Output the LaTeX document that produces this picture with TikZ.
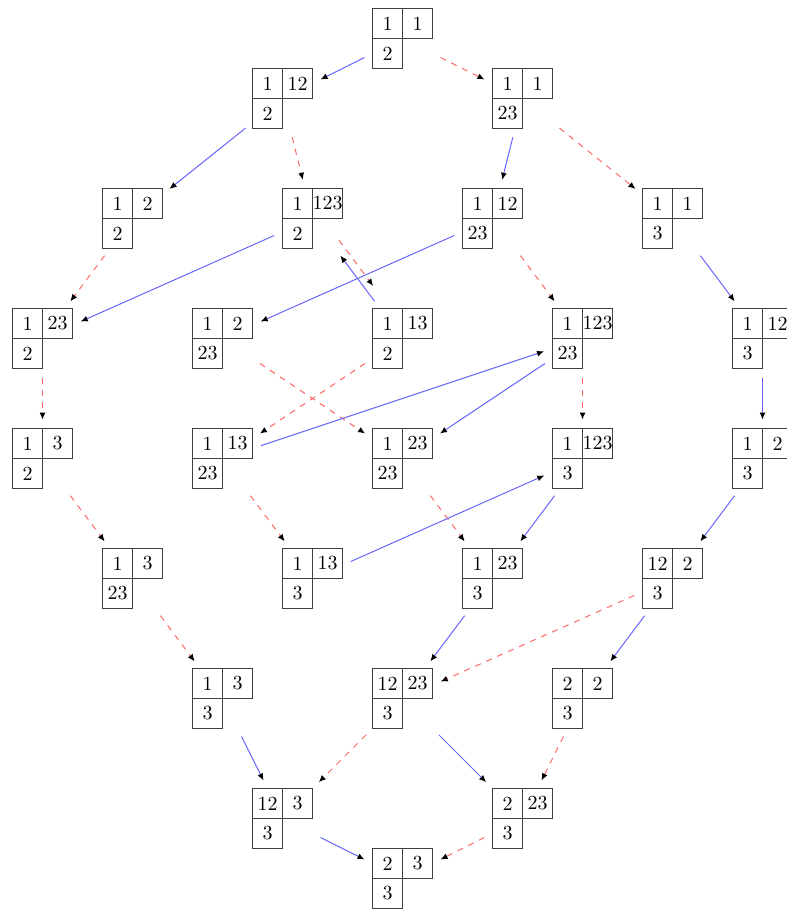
\documentclass[tikz,border=0pt]{standalone}
\usepackage{amsmath}
\usetikzlibrary{arrows.meta}
\tikzstyle{box}=[rectangle,minimum size=30pt,inner sep=0pt,outer sep=0pt]
\tikzstyle{cell}=[rectangle,draw=black!75,line width=0.5pt,
  minimum size=15pt,inner sep=0pt,outer sep=0pt]
\tikzstyle{blue edge}=[draw=blue!60,line width=0.5pt,
  -{Latex[black,length=3.5pt,width=3pt]},shorten <=4.5pt,shorten >=4.5pt]
\tikzstyle{red edge}=[draw=red!60,dashed,line width=0.5pt,
  -{Latex[black,length=3.5pt,width=3pt]},shorten <=4.5pt,shorten >=4.5pt]
% tableau: name, position, top left, top right, bottom
\newcommand{\ytab}[5]{%
  \node [style=box] (#1) at (#2) {};
  \node [style=cell, anchor=south east] (#1a) at (#1.center) {#3};
  \node [style=cell, anchor=south west] (#1b) at (#1.center) {#4};
  \node [style=cell, anchor=north east] (#1c) at (#1.center) {#5};
}
\begin{document}
\begin{tikzpicture}[x=15pt,y=15pt]
            \useasboundingbox (-1.4167, 1.2833) rectangle (24.783, -29.083);
            \ytab{0}{12, 0}{1}{1}{2}
            \ytab{1}{8, -2}{1}{12}{2}
            \ytab{2}{16, -2}{1}{1}{23}
            \ytab{3}{3, -6}{1}{2}{2}
            \ytab{4}{9, -6}{1}{123}{2}
            \ytab{5}{15, -6}{1}{12}{23}
            \ytab{6}{21, -6}{1}{1}{3}
            \ytab{7}{0, -10}{1}{23}{2}
            \ytab{8}{6, -10}{1}{2}{23}
            \ytab{9}{12, -10}{1}{13}{2}
            \ytab{10}{18, -10}{1}{123}{23}
            \ytab{11}{24, -10}{1}{12}{3}
            \ytab{12}{0, -14}{1}{3}{2}
            \ytab{13}{6, -14}{1}{13}{23}
            \ytab{14}{12, -14}{1}{23}{23}
            \ytab{15}{18, -14}{1}{123}{3}
            \ytab{16}{24, -14}{1}{2}{3}
            \ytab{17}{3, -18}{1}{3}{23}
            \ytab{18}{9, -18}{1}{13}{3}
            \ytab{19}{15, -18}{1}{23}{3}
            \ytab{20}{21, -18}{12}{2}{3}
            \ytab{21}{6, -22}{1}{3}{3}
            \ytab{22}{12, -22}{12}{23}{3}
            \ytab{23}{18, -22}{2}{2}{3}
            \ytab{24}{8, -26}{12}{3}{3}
            \ytab{25}{16, -26}{2}{23}{3}
            \ytab{26}{12, -28}{2}{3}{3}
            \draw [style=blue edge] (0) to (1);
            \draw [style=red edge] (0) to (2);
            \draw [style=blue edge] (1) to (3);
            \draw [style=red edge] (1) to (4);
            \draw [style=blue edge] (2) to (5);
            \draw [style=red edge] (2) to (6);
            \draw [style=red edge] (3) to (7);
            \draw [style=blue edge] (4) to (7);
            \draw [style=red edge, transform canvas={xshift=-0.75pt, yshift=7.75pt}] (4) to (9);
            \draw [style=blue edge] (9) to (4);
            \draw [style=blue edge] (5) to (8);
            \draw [style=red edge] (5) to (10);
            \draw [style=blue edge] (6) to (11);
            \draw [style=red edge] (7) to (12);
            \draw [style=red edge] (8) to (14);
            \draw [style=red edge] (9) to (13);
            \draw [style=blue edge] (13) to (10);
            \draw [style=blue edge] (10) to (14);
            \draw [style=red edge] (10) to (15);
            \draw [style=blue edge] (11) to (16);
            \draw [style=red edge] (12) to (17);
            \draw [style=red edge] (13) to (18);
            \draw [style=red edge] (14) to (19);
            \draw [style=blue edge] (15) to (19);
            \draw [style=blue edge] (18) to (15);
            \draw [style=blue edge] (16) to (20);
            \draw [style=red edge] (17) to (21);
            \draw [style=blue edge] (19) to (22);
            \draw [style=red edge] (20) to (22);
            \draw [style=blue edge] (20) to (23);
            \draw [style=blue edge] (21) to (24);
            \draw [style=red edge] (22) to (24);
            \draw [style=blue edge] (22) to (25);
            \draw [style=red edge] (23) to (25);
            \draw [style=blue edge] (24) to (26);
            \draw [style=red edge] (25) to (26);
    \end{tikzpicture}
\end{document}
